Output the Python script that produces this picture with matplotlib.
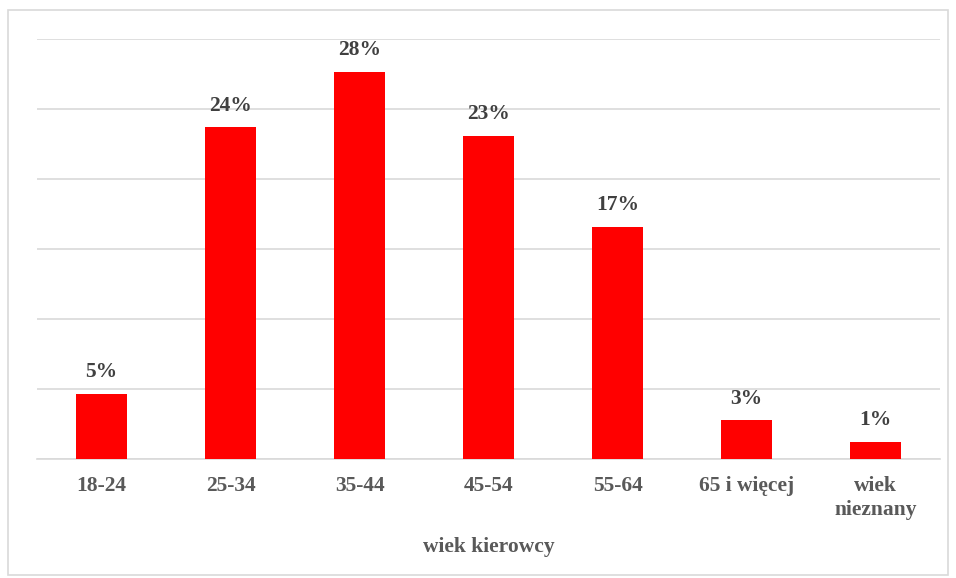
import matplotlib
matplotlib.use("Agg")
import matplotlib.pyplot as plt
import matplotlib.patches as mpatches
import numpy as np

# ---------------------------------------------------------------------------
# Data
# ---------------------------------------------------------------------------
categories = ["18-24", "25-34", "35-44", "45-54", "55-64", "65 i więcej", "wiek\nnieznany"]
values = [4.65, 23.7, 27.65, 23.1, 16.6, 2.77, 1.22]
labels = ["5%", "24%", "28%", "23%", "17%", "3%", "1%"]
x_title = "wiek kierowcy"

plt.rcParams.update({
    "font.family": ["Liberation Serif", "DejaVu Serif"],
    "font.weight": "bold",
})

W, H = 956, 578
fig = plt.figure(figsize=(W / 100, H / 100), dpi=100)

# outer chart border
fig.patches.append(mpatches.Rectangle((8 / W, 1 - 575 / H), (948 - 8) / W, (575 - 10) / H,
                                      transform=fig.transFigure, fill=False,
                                      edgecolor="#d9d9d9", linewidth=1.2))

ax = fig.add_axes([37 / W, 1 - 459 / H, (940 - 37) / W, (459 - 39) / H])
x = np.arange(len(categories))
ax.bar(x, values, width=0.395, color="#ff0000", zorder=3)

for xi, v, lab in zip(x, values, labels):
    ax.annotate(lab, (xi, v), xytext=(0, 12), textcoords="offset points",
                ha="center", va="baseline", fontsize=15.5, fontweight="bold",
                color="#404040")

ax.set_xlim(-0.5, len(categories) - 0.5)
ax.set_ylim(0, 30)
ax.set_yticks(np.arange(0, 31, 5))
ax.yaxis.grid(True, color="#d9d9d9", linewidth=1.2, zorder=0)
ax.set_axisbelow(True)
ax.tick_params(axis="y", left=False, labelleft=False)
ax.tick_params(axis="x", bottom=False, pad=9)
ax.set_xticks(x)
ax.set_xticklabels(categories, fontsize=15.5, fontweight="bold", color="#595959",
                   linespacing=1.25)
for s in ["top", "right", "left"]:
    ax.spines[s].set_visible(False)
ax.spines["bottom"].set_color("#d9d9d9")
ax.spines["bottom"].set_linewidth(1.2)

ax.set_xlabel(x_title, fontsize=15.5, fontweight="bold", color="#595959", labelpad=12)

fig.savefig("out.png", dpi=100)
